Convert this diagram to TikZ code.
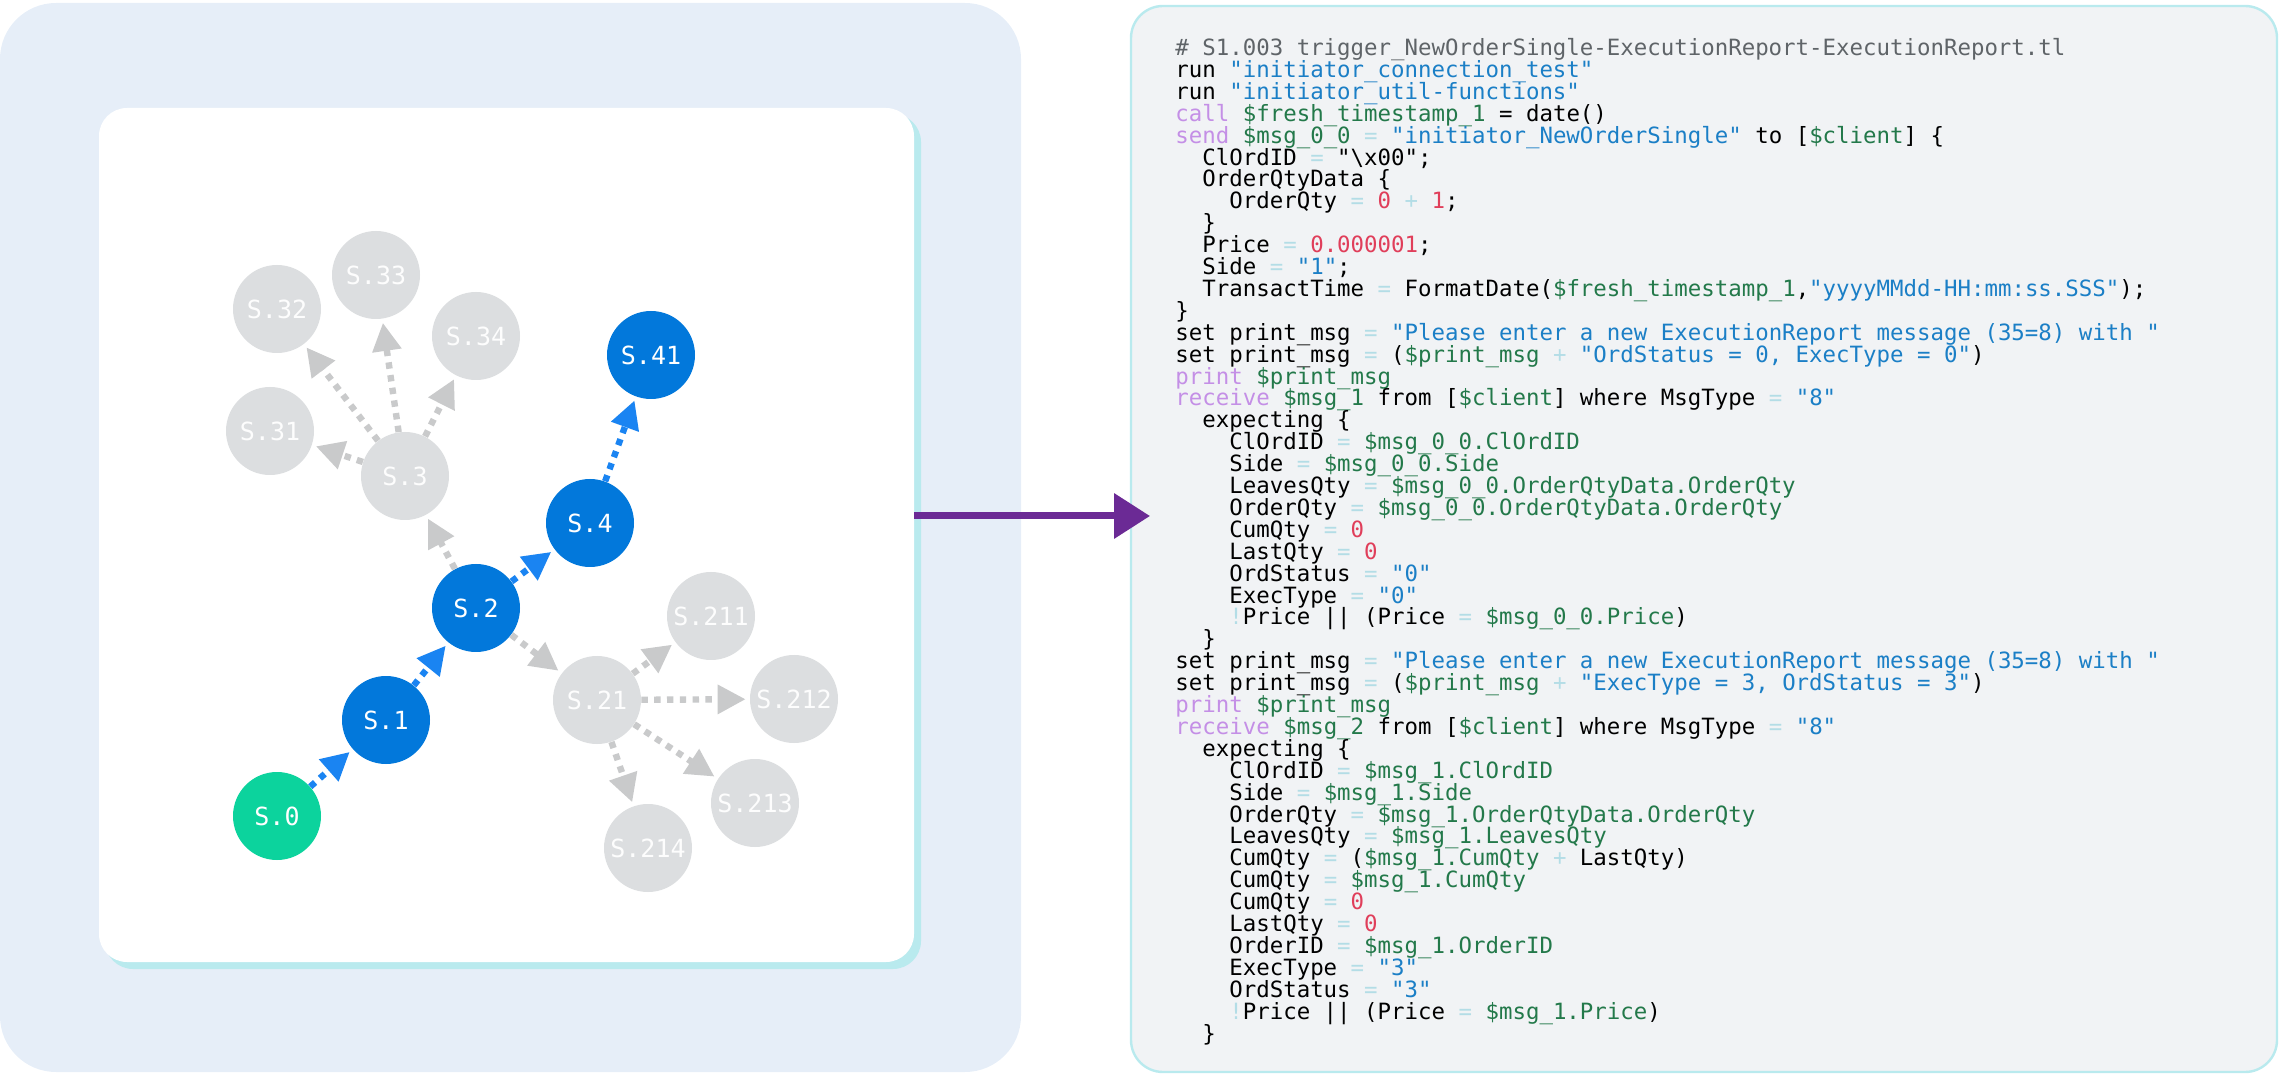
\documentclass[tikz,border=0pt]{standalone}
\usepackage{fontspec}
\setmonofont{DejaVu Sans Mono}
\usetikzlibrary{arrows.meta}
\definecolor{panelblue}{HTML}{E6EEF8}
\definecolor{codebg}{HTML}{F1F3F5}
\definecolor{cyanedge}{HTML}{B9EAEE}
\definecolor{stblue}{HTML}{0278DB}
\definecolor{stgreen}{HTML}{0CD39D}
\definecolor{stgray}{HTML}{DCDEE0}
\definecolor{arblue}{HTML}{1A84F2}
\definecolor{argray}{HTML}{C9CACB}
\definecolor{purplearrow}{HTML}{6B2A95}
\definecolor{ckwc}{HTML}{C48FE6}
\definecolor{cstrc}{HTML}{1B7FC6}
\definecolor{cvarc}{HTML}{23794A}
\definecolor{cnumc}{HTML}{E03E5A}
\definecolor{copc}{HTML}{B3DDE6}
\definecolor{ccomc}{HTML}{5F6468}
\newcommand{\ckw}[1]{\textcolor{ckwc}{#1}}
\newcommand{\cstr}[1]{\textcolor{cstrc}{#1}}
\newcommand{\cvar}[1]{\textcolor{cvarc}{#1}}
\newcommand{\cnum}[1]{\textcolor{cnumc}{#1}}
\newcommand{\cop}[1]{\textcolor{copc}{#1}}
\newcommand{\ind}[1]{\hspace*{#1\dimexpr1.204em\relax}}
\newcommand{\codefont}{\ttfamily\fontsize{11.2}{10.95}\selectfont\lineskiplimit=-100pt\relax\lineskip=0pt\relax}
\begin{document}
\begin{tikzpicture}[x=0.5pt,y=-0.5pt,>=latex,line join=bevel,
  state/.style={circle,minimum size=44pt,inner sep=0pt,font=\ttfamily\fontsize{12.5}{12.5}\selectfont},
  on/.style={state,fill=stblue,text=white},
  start/.style={state,fill=stgreen,text=white},
  off/.style={state,fill=stgray,text=white!94!stgray},
  go/.style={draw=arblue,line width=3.2pt,dash pattern=on 3.2pt off 3.2pt,-{Triangle[length=14pt,width=14pt,fill=arblue]},shorten >=2pt},
  idle/.style={draw=argray,line width=3.2pt,dash pattern=on 3.2pt off 3.2pt,-{Triangle[length=14pt,width=14pt,fill=argray]},shorten >=2pt}]
%%
  \useasboundingbox (0,0) rectangle (2281,1079);
  \fill [panelblue,rounded corners=28pt] (0,3) rectangle (1021,1072);
  \fill [cyanedge,rounded corners=14pt] (105,114) rectangle (921,969);
  \fill [white,rounded corners=14pt] (99,108) rectangle (914,962);
  \filldraw [fill=codebg,draw=cyanedge,line width=1.2pt,rounded corners=16pt] (1131,6) rectangle (2277,1072);
%%
  \node (s_0) at (277,816) [start] {S.0};
  \node (s_1) at (386,720) [on] {S.1};
  \node (s_2) at (476,608) [on] {S.2};
  \node (s_4) at (590,523) [on] {S.4};
  \node (s_41) at (651,355) [on] {S.41};
  \node (s_3) at (405,476) [off] {S.3};
  \node (s_31) at (270,431) [off] {S.31};
  \node (s_32) at (277,309) [off] {S.32};
  \node (s_33) at (376,275) [off] {S.33};
  \node (s_34) at (476,336) [off] {S.34};
  \node (s_21) at (597,700) [off] {S.21};
  \node (s_211) at (711,616) [off] {S.211};
  \node (s_212) at (794,699) [off] {S.212};
  \node (s_213) at (755,803) [off] {S.213};
  \node (s_214) at (648,848) [off] {S.214};

  \draw [go] (s_0) to (s_1);
  \draw [go] (s_1) to (s_2);
  \draw [go] (s_2) to (s_4);
  \draw [go] (s_4) to (s_41);
  \draw [idle] (s_2) to (s_3);
  \draw [idle] (s_2) to (s_21);
  \draw [idle] (s_3) to (s_31);
  \draw [idle] (s_3) to (s_32);
  \draw [idle] (s_3) to (s_33);
  \draw [idle] (s_3) to (s_34);
  \draw [idle] (s_21) to (s_211);
  \draw [idle] (s_21) to (s_212);
  \draw [idle] (s_21) to (s_213);
  \draw [idle] (s_21) to (s_214);
%%
  \coordinate (arrow_from) at (914,516);
  \node (code) at (1175,38) [anchor=north west,inner sep=0pt,align=left,font=\codefont] {%
\textcolor{ccomc}{\# S1.003 trigger\_NewOrderSingle-ExecutionReport-ExecutionReport.tl}\\
run \cstr{"initiator\_connection\_test"}\\
run \cstr{"initiator\_util-functions"}\\
\ckw{call} \cvar{\$fresh\_timestamp\_1} = date()\\
\ckw{send} \cvar{\$msg\_0\_0} \cop{=} \cstr{"initiator\_NewOrderSingle"} to [\cvar{\$client}] \{\\
\ind{1}ClOrdID \cop{=} "\textbackslash x00";\\
\ind{1}OrderQtyData \{\\
\ind{2}OrderQty \cop{=} \cnum{0} \cop{+} \cnum{1};\\
\ind{1}\}\\
\ind{1}Price \cop{=} \cnum{0.000001};\\
\ind{1}Side \cop{=} \cstr{"1"};\\
\ind{1}TransactTime \cop{=} FormatDate(\cvar{\$fresh\_timestamp\_1},\cstr{"yyyyMMdd-HH:mm:ss.SSS"});\\
\}\\
set print\_msg \cop{=} \cstr{"Please enter a new ExecutionReport message (35=8) with "}\\
set print\_msg \cop{=} (\cvar{\$print\_msg} \cop{+} \cstr{"OrdStatus = 0, ExecType = 0"})\\
\ckw{print} \cvar{\$print\_msg}\\
\ckw{receive} \cvar{\$msg\_1} from [\cvar{\$client}] where MsgType \cop{=} \cstr{"8"}\\
\ind{1}expecting \{\\
\ind{2}ClOrdID \cop{=} \cvar{\$msg\_0\_0.ClOrdID}\\
\ind{2}Side \cop{=} \cvar{\$msg\_0\_0.Side}\\
\ind{2}LeavesQty \cop{=} \cvar{\$msg\_0\_0.OrderQtyData.OrderQty}\\
\ind{2}OrderQty \cop{=} \cvar{\$msg\_0\_0.OrderQtyData.OrderQty}\\
\ind{2}CumQty \cop{=} \cnum{0}\\
\ind{2}LastQty \cop{=} \cnum{0}\\
\ind{2}OrdStatus \cop{=} \cstr{"0"}\\
\ind{2}ExecType \cop{=} \cstr{"0"}\\
\ind{2}\cop{!}Price || (Price \cop{=} \cvar{\$msg\_0\_0.Price})\\
\ind{1}\}\\
set print\_msg \cop{=} \cstr{"Please enter a new ExecutionReport message (35=8) with "}\\
set print\_msg \cop{=} (\cvar{\$print\_msg} \cop{+} \cstr{"ExecType = 3, OrdStatus = 3"})\\
\ckw{print} \cvar{\$print\_msg}\\
\ckw{receive} \cvar{\$msg\_2} from [\cvar{\$client}] where MsgType \cop{=} \cstr{"8"}\\
\ind{1}expecting \{\\
\ind{2}ClOrdID \cop{=} \cvar{\$msg\_1.ClOrdID}\\
\ind{2}Side \cop{=} \cvar{\$msg\_1.Side}\\
\ind{2}OrderQty \cop{=} \cvar{\$msg\_1.OrderQtyData.OrderQty}\\
\ind{2}LeavesQty \cop{=} \cvar{\$msg\_1.LeavesQty}\\
\ind{2}CumQty \cop{=} (\cvar{\$msg\_1.CumQty} \cop{+} LastQty)\\
\ind{2}CumQty \cop{=} \cvar{\$msg\_1.CumQty}\\
\ind{2}CumQty \cop{=} \cnum{0}\\
\ind{2}LastQty \cop{=} \cnum{0}\\
\ind{2}OrderID \cop{=} \cvar{\$msg\_1.OrderID}\\
\ind{2}ExecType \cop{=} \cstr{"3"}\\
\ind{2}OrdStatus \cop{=} \cstr{"3"}\\
\ind{2}\cop{!}Price || (Price \cop{=} \cvar{\$msg\_1.Price})\\
\ind{1}\}};
  \coordinate (arrow_to) at (1150,516);
  \draw [purplearrow,line width=3.5pt,-{Triangle[length=18pt,width=22pt]}] (arrow_from) -- (arrow_to);
%
\end{tikzpicture}
\end{document}
